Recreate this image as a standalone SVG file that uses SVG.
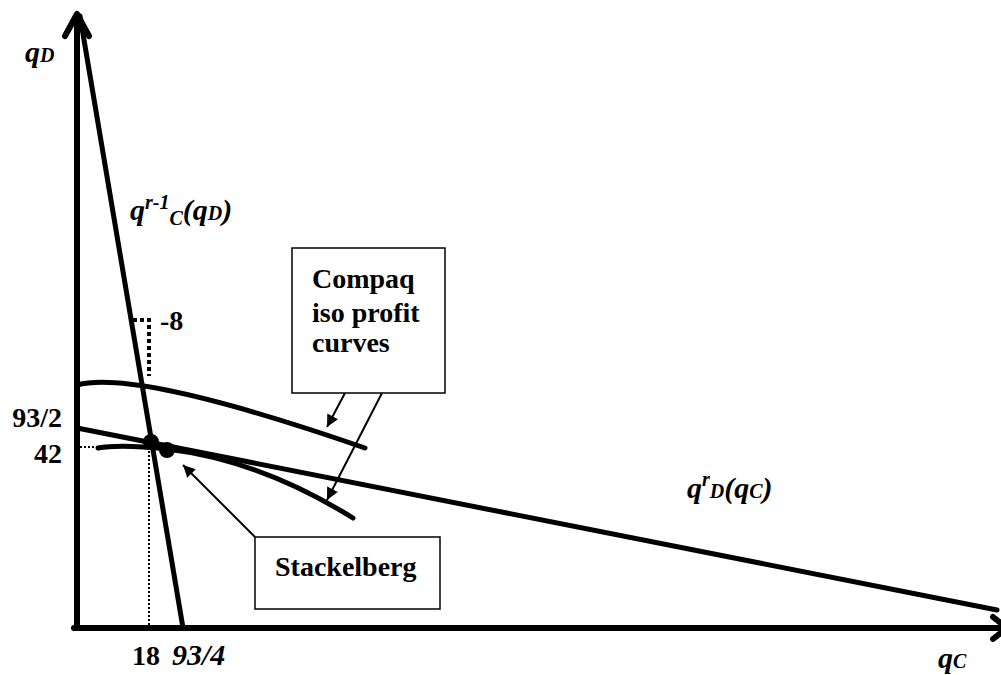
<svg xmlns="http://www.w3.org/2000/svg" width="1001" height="675" viewBox="0 0 1001 675">
<style>
.ax{stroke:#000;stroke-width:6;fill:none;stroke-linecap:round;stroke-linejoin:round}
.ln{stroke:#000;stroke-width:5;fill:none;stroke-linecap:round}
.dot{stroke:#000;stroke-width:2;fill:none;stroke-dasharray:2 2}
.dotb{stroke:#000;stroke-width:4;fill:none;stroke-dasharray:4 3}
.box{fill:#fff;stroke:#000;stroke-width:1.5}
.con{stroke:#000;stroke-width:2;fill:none}
.b{font-family:"Liberation Serif",serif;font-weight:bold;font-size:28px;fill:#000}
.bi{font-family:"Liberation Serif",serif;font-weight:bold;font-style:italic;font-size:30px;fill:#000}
.s{font-size:20px}
</style>
<defs>
<marker id="ah2" viewBox="0 0 10 10" refX="10" refY="5" markerWidth="14" markerHeight="12" orient="auto" markerUnits="userSpaceOnUse">
<path d="M0,0 L10,5 L0,10 z" fill="#000"/>
</marker>
</defs>
<g id="axes">
<line class="ax" x1="77" y1="628" x2="77" y2="16"/>
<path class="ax" d="M65,36 L77,14 L89,36"/>
<line class="ax" x1="74" y1="628" x2="1000" y2="628"/>
<path class="ax" d="M993,617 L1007,628 L993,639"/>
</g>
<g id="curves">
<line id="q-r-1-C" class="ln" x1="80" y1="16" x2="183" y2="628"/>
<line id="q-r-D" class="ln" x1="77" y1="428" x2="997" y2="610"/>
<path id="iso-upper" class="ln" d="M77,385 Q137,369 365,448"/>
<path id="iso-lower" class="ln" d="M98,448 Q120,444 167,449 Q260,460 353,518"/>
<path class="dot" d="M80,447 L150,447 M149,447 L149,626"/>
<path class="dotb" d="M133,320 L149,320 L149,376"/>
<circle cx="151" cy="442" r="8" fill="#000"/>
<circle cx="167" cy="450" r="8" fill="#000"/>
</g>
<g id="connectors">
<line class="con" x1="345" y1="393" x2="327" y2="427" marker-end="url(#ah2)"/>
<line class="con" x1="382" y1="393" x2="327" y2="500" marker-end="url(#ah2)"/>
<line class="con" x1="255" y1="537" x2="183" y2="465" marker-end="url(#ah2)"/>
</g>
<g id="compaq-box">
<rect class="box" x="292" y="248" width="153" height="145"/>
<text class="b" x="312" y="288">Compaq</text>
<text class="b" x="312" y="322">iso profit</text>
<text class="b" x="312" y="352">curves</text>
</g>
<g id="stackelberg-box">
<rect class="box" x="255" y="537" width="185" height="72"/>
<text class="b" x="275" y="576">Stackelberg</text>
</g>
<g id="labels">
<text class="bi" x="25" y="62">q<tspan class="s">D</tspan></text>
<text class="bi" x="130" y="220">q<tspan class="s" dy="-11">r-1</tspan><tspan class="s" dy="16">C</tspan><tspan dy="-5">(q</tspan><tspan class="s">D</tspan><tspan>)</tspan></text>
<text class="b" x="160" y="330">-8</text>
<text class="b" x="62" y="427" text-anchor="end">93/2</text>
<text class="b" x="62" y="463" text-anchor="end">42</text>
<text class="b" x="132" y="665">18</text>
<text class="bi" x="172" y="665">93/4</text>
<text class="bi" x="687" y="498">q<tspan class="s" dy="-12">r</tspan><tspan class="s" dy="12">D</tspan>(q<tspan class="s">C</tspan>)</text>
<text class="bi" x="938" y="668">q<tspan class="s">C</tspan></text>
</g>
</svg>
